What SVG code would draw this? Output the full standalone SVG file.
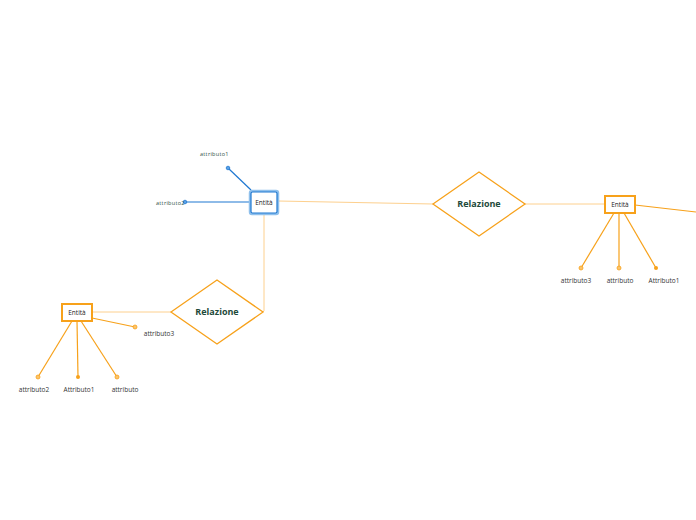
<svg xmlns="http://www.w3.org/2000/svg" width="696" height="520" viewBox="0 0 696 520">
<style>
.lbl{font-family:"Open Sans","Liberation Sans",sans-serif;font-size:6.5px;fill:#333;text-anchor:middle}
.blbl{font-family:"Open Sans","Liberation Sans",sans-serif;font-size:5.5px;fill:#2c4f45;letter-spacing:0.3px}
.ent{font-family:"Open Sans","Liberation Sans",sans-serif;font-size:6.5px;fill:#222;text-anchor:middle}
.rel{font-family:"Open Sans","Liberation Sans",sans-serif;font-size:9px;font-weight:bold;fill:#1e4a3a;text-anchor:middle}
.conn{fill:none;stroke:#fdd08e;stroke-width:1}
.oline{fill:none;stroke:#f7a11a;stroke-width:1.2}
.bline{fill:none;stroke:#1f78d1;stroke-width:1.2}
.obox{fill:#fff;stroke:#f7a11a;stroke-width:2}
.dia{fill:#fff;stroke:#f7a11a;stroke-width:1.3}
</style>
<rect width="696" height="520" fill="#fff"/>
<g id="connectors">
<line class="conn" x1="278" y1="201" x2="433" y2="204"/>
<line class="conn" x1="525" y1="204" x2="605" y2="204"/>
<polyline class="conn" points="264,214 264,311 263,312"/>
<line class="conn" x1="171" y1="312" x2="92" y2="312"/>
<line class="oline" x1="635" y1="205" x2="696" y2="212"/>
<line class="bline" x1="251" y1="190" x2="228" y2="168"/>
<line class="bline" x1="250" y1="202" x2="185" y2="202"/>
<line class="oline" x1="614" y1="213" x2="581" y2="268"/>
<line class="oline" x1="619" y1="213" x2="619" y2="268"/>
<line class="oline" x1="624" y1="213" x2="656" y2="268"/>
<line class="oline" x1="92" y1="318" x2="135" y2="327"/>
<line class="oline" x1="72" y1="321" x2="38" y2="377"/>
<line class="oline" x1="77" y1="321" x2="78" y2="377"/>
<line class="oline" x1="81" y1="321" x2="117" y2="377"/>
</g>
<g id="entita-blu">
<rect x="250" y="191" width="28" height="23" rx="2" fill="#fff" stroke="#8fc0ec" stroke-width="2.5"/>
<rect x="251" y="192" width="26" height="21" rx="1.5" fill="#fff" stroke="#1f78d1" stroke-width="1.2"/>
<text class="ent" x="264" y="205">Entità</text>
</g>
<g id="attr-b1">
<circle cx="228" cy="168" r="1.8" fill="#5aa0e6" stroke="#1f78d1" stroke-width="0.8"/>
<text class="blbl" x="200" y="156">attributo1</text>
</g>
<g id="attr-b2">
<circle cx="185" cy="202" r="1.8" fill="#5aa0e6" stroke="#1f78d1" stroke-width="0.8"/>
<text class="blbl" x="156" y="205">attributo2</text>
</g>
<g id="relazione1">
<polygon class="dia" points="433,204 479,172 525,204 479,236"/>
<text class="rel" x="479" y="207">Relazione</text>
</g>
<g id="entita-destra">
<rect class="obox" x="605" y="196" width="30" height="17"/>
<text class="ent" x="620" y="207">Entità</text>
</g>
<g id="attr-d1">
<circle cx="581" cy="268" r="2" fill="#fcc46a" stroke="#f7a11a" stroke-width="0.8"/>
<text class="lbl" x="576" y="283">attributo3</text>
</g>
<g id="attr-d2">
<circle cx="619" cy="268" r="2" fill="#fcc46a" stroke="#f7a11a" stroke-width="0.8"/>
<text class="lbl" x="620" y="283">attributo</text>
</g>
<g id="attr-d3">
<circle cx="656" cy="268" r="2" fill="#f7a11a"/>
<text class="lbl" x="664" y="283">Attributo1</text>
</g>
<g id="relazione2">
<polygon class="dia" points="171,312 217,280 263,312 217,344"/>
<text class="rel" x="217" y="315">Relazione</text>
</g>
<g id="entita-sinistra">
<rect class="obox" x="62" y="304" width="30" height="17"/>
<text class="ent" x="77" y="315">Entità</text>
</g>
<g id="attr-s1">
<circle cx="135" cy="327" r="2" fill="#fcc46a" stroke="#f7a11a" stroke-width="0.8"/>
<text class="lbl" x="159" y="336">attributo3</text>
</g>
<g id="attr-s2">
<circle cx="38" cy="377" r="2" fill="#fcc46a" stroke="#f7a11a" stroke-width="0.8"/>
<text class="lbl" x="34" y="392">attributo2</text>
</g>
<g id="attr-s3">
<circle cx="78" cy="377" r="2" fill="#f7a11a"/>
<text class="lbl" x="79" y="392">Attributo1</text>
</g>
<g id="attr-s4">
<circle cx="117" cy="377" r="2" fill="#fcc46a" stroke="#f7a11a" stroke-width="0.8"/>
<text class="lbl" x="125" y="392">attributo</text>
</g>
</svg>
